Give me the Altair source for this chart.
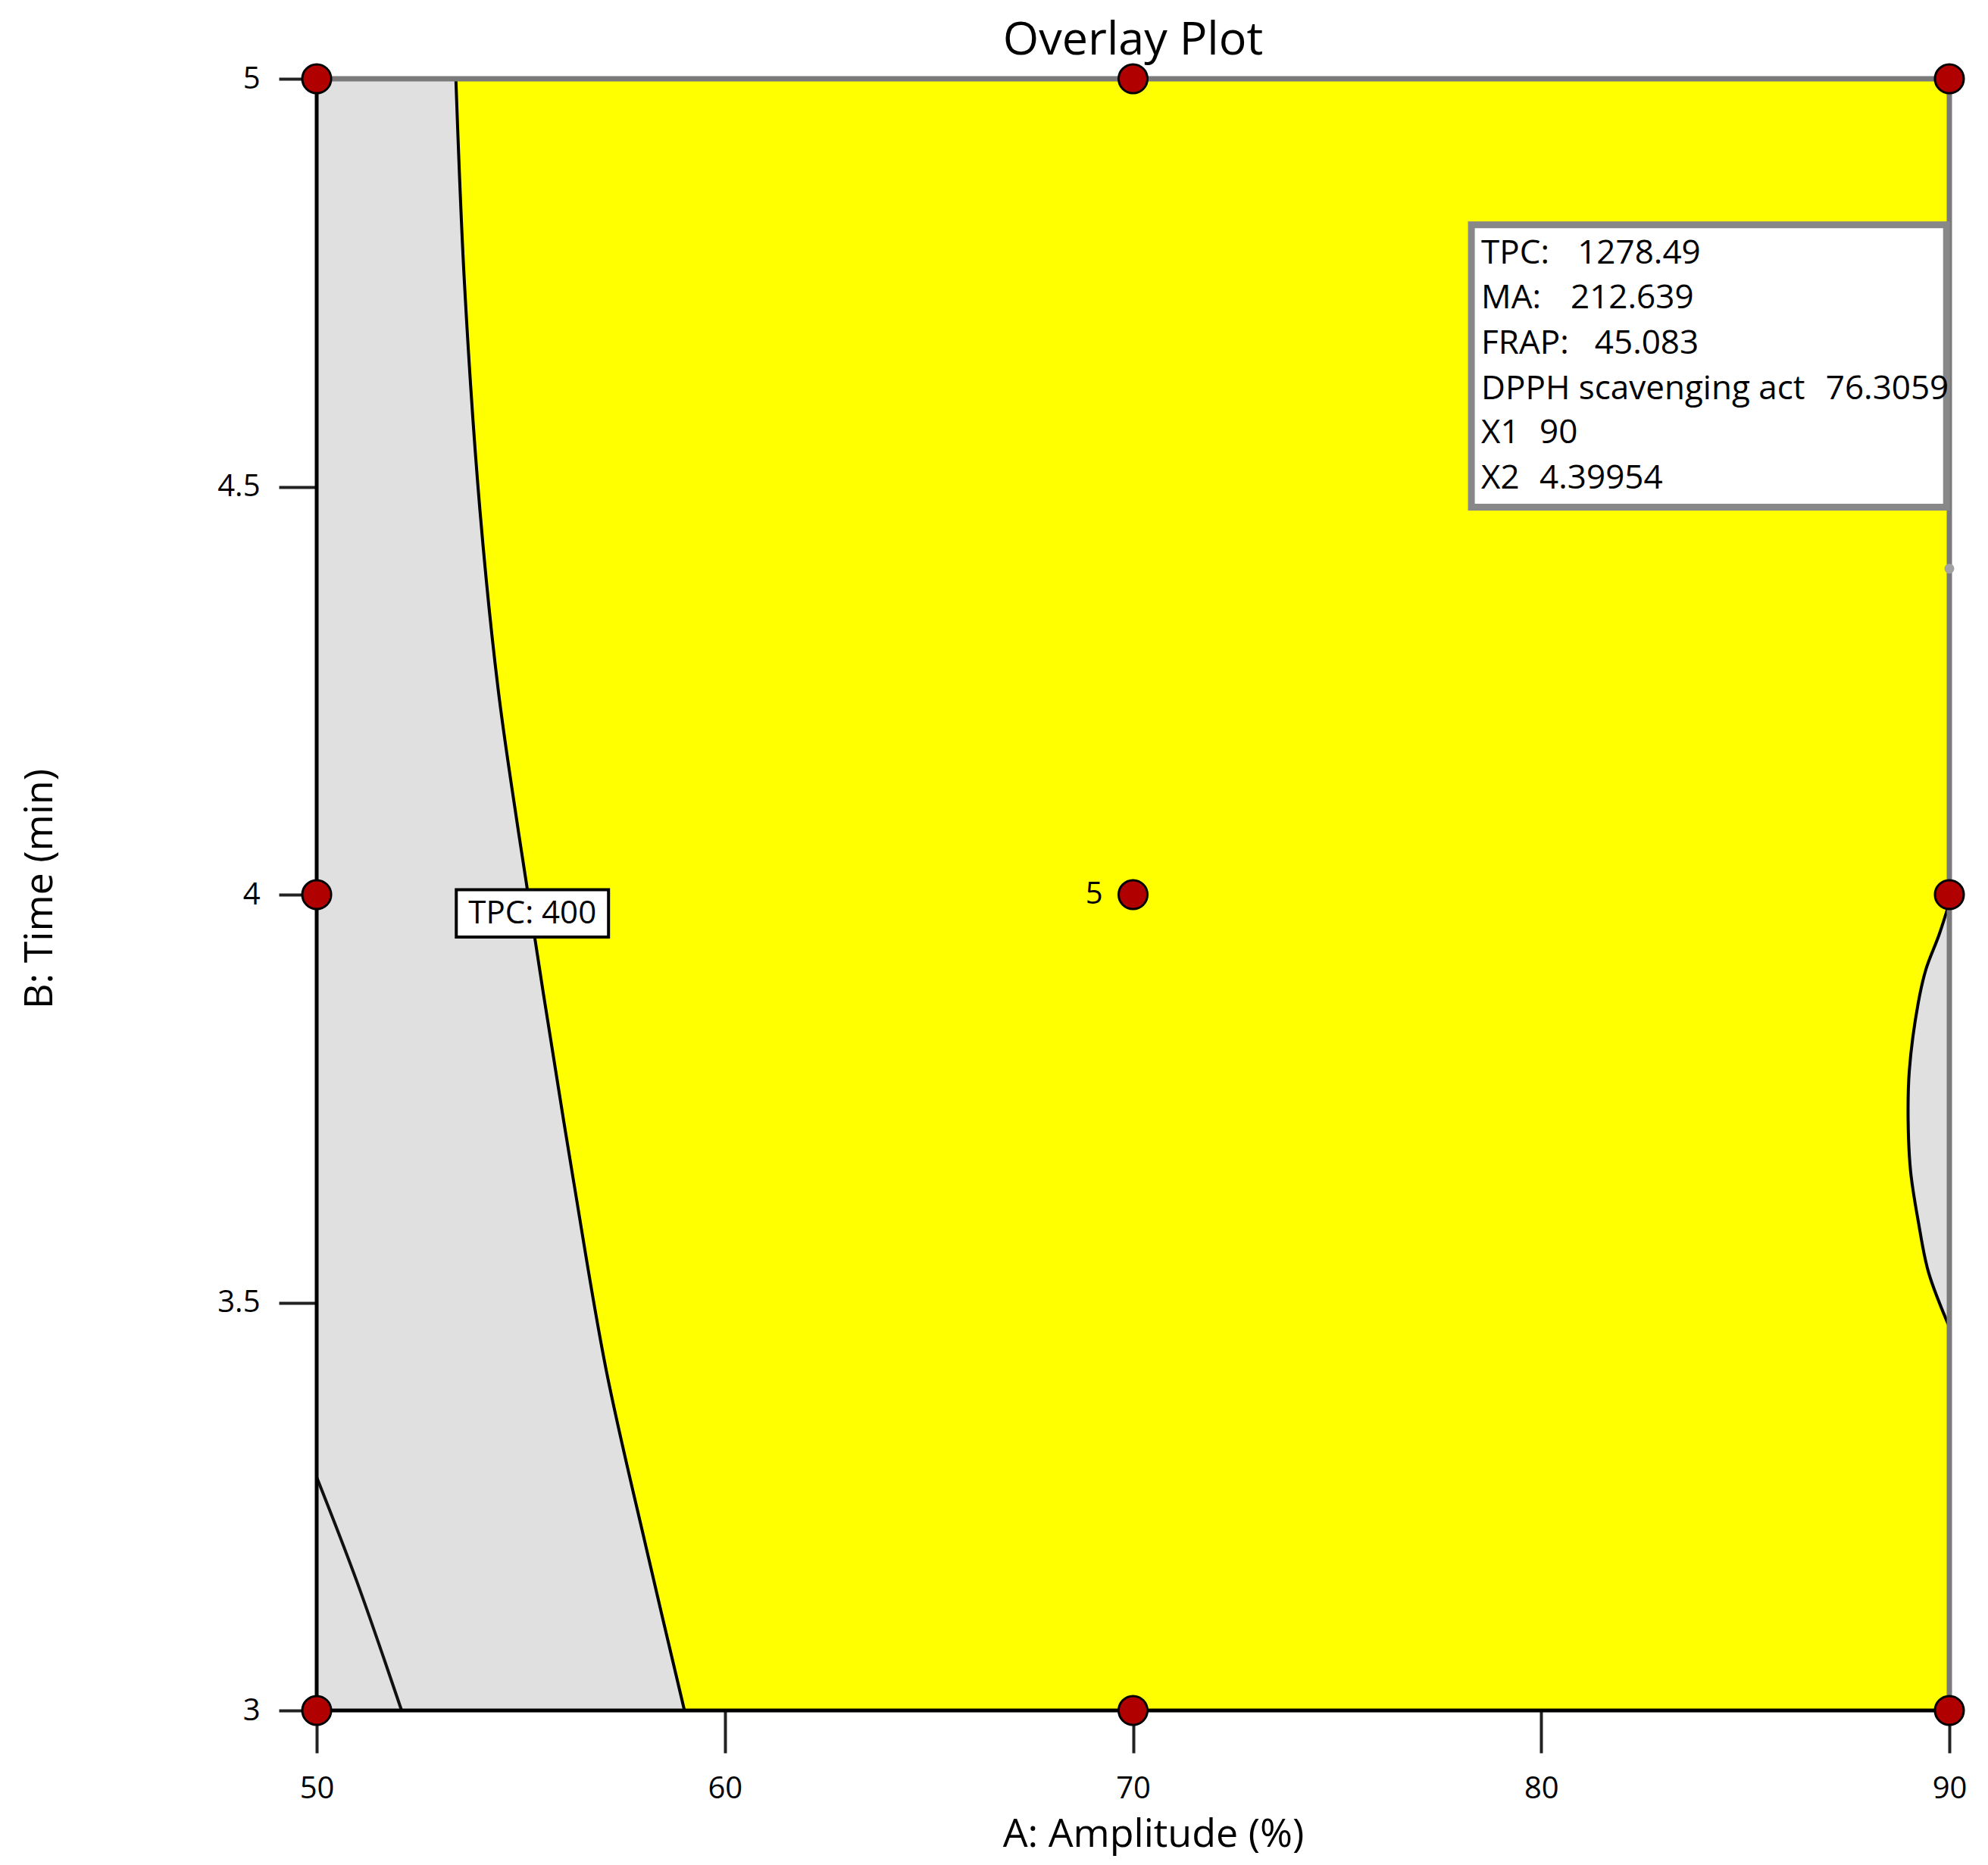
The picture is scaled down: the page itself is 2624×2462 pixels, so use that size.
import altair as alt
import pandas as pd

# ---------------- data ----------------
amp_domain = [50, 90]
time_domain = [3, 5]
x_ticks = [50, 60, 70, 80, 90]
y_ticks = [3, 3.5, 4, 4.5, 5]

# TPC = 400 contour (left boundary of the yellow region)
tpc400_x = [53.41, 53.62, 54.00, 54.45, 54.95, 55.55, 56.29, 57.09, 58.08, 59.01]
tpc400_y = [5.0, 4.75, 4.471, 4.25, 4.075, 3.88, 3.650, 3.418, 3.198, 3.0]

# second contour in the lower left corner
low_x = [50.0, 50.97, 52.08]
low_y = [3.286, 3.16, 3.0]

# lens-shaped boundary at the right edge
lens_x = [90.0, 89.75, 89.43, 89.24, 89.02, 88.99, 89.05, 89.24, 89.49, 90.0]
lens_y = [3.99, 3.951, 3.909, 3.868, 3.785, 3.723, 3.661, 3.599, 3.537, 3.470]

# design points
design_a = [50, 70, 90, 50, 70, 90, 50, 70, 90]
design_b = [5, 5, 5, 4, 4, 4, 3, 3, 3]
center_a = [70]
center_b = [4]
center_label = ["5"]

# flag point
flag_a = [90]
flag_b = [4.39954]

# flag box content
box_labels = ["TPC:", "MA:", "FRAP:", "DPPH scavenging act", "X1", "X2"]
box_values = ["1278.49", "212.639", "45.083", "76.3059", "90", "4.39954"]

# annotation placement (data units)
box_extent_x = [78.29, 89.93]
box_extent_y = [4.475, 4.821]
box_label_x = 78.53
box_value_x = [80.89, 80.72, 81.31, 86.97, 79.96, 79.96]
box_line_y = [4.773, 4.719, 4.663, 4.607, 4.553, 4.498]

tpc_label = ["TPC: 400"]
tpc_box_x = [53.42, 57.15]
tpc_box_y = [3.948, 4.006]

chart_title = ["Overlay Plot"]
title_pos_x = [70]
title_pos_y = [5.0297]

FONT = "Open Sans"

# ---------------- encodings ----------------
xscale = alt.Scale(domain=amp_domain, nice=False, zero=False)
yscale = alt.Scale(domain=time_domain, nice=False, zero=False)

x_axis = alt.Axis(values=x_ticks, title="A: Amplitude (%)", grid=False, domain=False,
                  tickSize=56, tickWidth=4, tickColor="#222222",
                  labelFont=FONT, labelFontSize=40, labelColor="black",
                  labelBaseline="alphabetic", labelPadding=59, labelFlush=False,
                  titleFont=FONT, titleFontSize=52, titleFontWeight="normal",
                  titleColor="black", titleX=1104, titleY=179,
                  titleAlign="center", titleBaseline="alphabetic")
y_axis = alt.Axis(values=y_ticks, format="~g", title="B: Time (min)", grid=False,
                  domain=False, tickSize=50, tickWidth=4, tickColor="#222222",
                  labelFont=FONT, labelFontSize=40, labelColor="black",
                  labelPadding=25, labelFlush=False,
                  titleFont=FONT, titleFontSize=52, titleFontWeight="normal",
                  titleColor="black", titleX=-350, titleY=1069, titleAngle=-90,
                  titleAlign="center", titleBaseline="alphabetic")


def X(field):
    return alt.X(field, type="quantitative", scale=xscale, axis=x_axis)


def Y(field):
    return alt.Y(field, type="quantitative", scale=yscale, axis=y_axis)


CURVE = "catmull-rom"

# ---------------- layers ----------------
bg_df = pd.DataFrame({"x": [amp_domain[0]], "x2": [amp_domain[1]],
                      "y": [time_domain[0]], "y2": [time_domain[1]]})
background = alt.Chart(bg_df).mark_rect(color="#E0E0E0").encode(
    x=X("x"), x2="x2", y=Y("y"), y2="y2")

yellow_df = pd.DataFrame({"x": tpc400_x, "x2": [amp_domain[1]] * len(tpc400_x), "y": tpc400_y})
yellow = alt.Chart(yellow_df).mark_area(orient="horizontal", color="#FFFF00", opacity=1,
                                        interpolate=CURVE).encode(
    x=X("x"), x2="x2", y=Y("y"))

lens_df = pd.DataFrame({"x": lens_x, "x2": [amp_domain[1]] * len(lens_x), "y": lens_y,
                        "i": list(range(len(lens_x)))})
lens_fill = alt.Chart(lens_df).mark_area(orient="horizontal", color="#E0E0E0", opacity=1,
                                         interpolate=CURVE).encode(
    x=X("x"), x2="x2", y=Y("y"))

tpc_df = pd.DataFrame({"x": tpc400_x, "y": tpc400_y, "i": list(range(len(tpc400_x)))})
tpc_line = alt.Chart(tpc_df).mark_line(color="black", strokeWidth=4, interpolate=CURVE).encode(
    x=X("x"), y=Y("y"), order="i:Q")

lens_line = alt.Chart(lens_df).mark_line(color="black", strokeWidth=4, interpolate=CURVE).encode(
    x=X("x"), y=Y("y"), order="i:Q")

low_df = pd.DataFrame({"x": low_x, "y": low_y, "i": list(range(len(low_x)))})
low_line = alt.Chart(low_df).mark_line(color="#111111", strokeWidth=4, interpolate=CURVE).encode(
    x=X("x"), y=Y("y"), order="i:Q")

# frame
top_df = pd.DataFrame({"x": [amp_domain[0]], "x2": [amp_domain[1]], "y": [time_domain[1]]})
right_df = pd.DataFrame({"x": [amp_domain[1]], "y": [time_domain[0]], "y2": [time_domain[1]]})
left_df = pd.DataFrame({"x": [amp_domain[0]], "y": [time_domain[0]], "y2": [time_domain[1]]})
bottom_df = pd.DataFrame({"x": [amp_domain[0]], "x2": [amp_domain[1]], "y": [time_domain[0]]})
frame_top = alt.Chart(top_df).mark_rule(color="#7a7a7a", strokeWidth=7).encode(
    x=X("x"), x2="x2", y=Y("y"))
frame_right = alt.Chart(right_df).mark_rule(color="#7a7a7a", strokeWidth=7).encode(
    x=X("x"), y=Y("y"), y2="y2")
frame_left = alt.Chart(left_df).mark_rule(color="black", strokeWidth=5).encode(
    x=X("x"), y=Y("y"), y2="y2")
frame_bottom = alt.Chart(bottom_df).mark_rule(color="black", strokeWidth=5).encode(
    x=X("x"), x2="x2", y=Y("y"))

# TPC: 400 label
tpcbox_df = pd.DataFrame({"x": [tpc_box_x[0]], "x2": [tpc_box_x[1]],
                          "y": [tpc_box_y[0]], "y2": [tpc_box_y[1]],
                          "xm": [sum(tpc_box_x) / 2], "ym": [sum(tpc_box_y) / 2],
                          "t": tpc_label})
tpc_box = alt.Chart(tpcbox_df).mark_rect(fill="white", stroke="black", strokeWidth=4).encode(
    x=X("x"), x2="x2", y=Y("y"), y2="y2")
tpc_text = alt.Chart(tpcbox_df).mark_text(font=FONT, fontSize=42, color="black",
                                          align="center", baseline="middle").encode(
    x=X("xm"), y=Y("ym"), text="t:N")

# flag box
flagbox_df = pd.DataFrame({"x": [box_extent_x[0]], "x2": [box_extent_x[1]],
                           "y": [box_extent_y[0]], "y2": [box_extent_y[1]]})
flag_box = alt.Chart(flagbox_df).mark_rect(fill="white", stroke="#888888", strokeWidth=9).encode(
    x=X("x"), x2="x2", y=Y("y"), y2="y2")
lab_df = pd.DataFrame({"x": [box_label_x] * len(box_labels), "y": box_line_y, "t": box_labels})
val_df = pd.DataFrame({"x": box_value_x, "y": box_line_y, "t": box_values})
flag_labels = alt.Chart(lab_df).mark_text(font=FONT, fontSize=44, color="black",
                                          align="left", baseline="alphabetic").encode(
    x=X("x"), y=Y("y"), text="t:N")
flag_values = alt.Chart(val_df).mark_text(font=FONT, fontSize=44, color="black",
                                          align="left", baseline="alphabetic").encode(
    x=X("x"), y=Y("y"), text="t:N")

flag_pt_df = pd.DataFrame({"x": flag_a, "y": flag_b})
flag_pt = alt.Chart(flag_pt_df).mark_circle(size=170, color="#a2a2a2", opacity=1).encode(
    x=X("x"), y=Y("y"))

# design points
pts_df = pd.DataFrame({"x": design_a, "y": design_b})
points = alt.Chart(pts_df).mark_circle(size=1450, fill="#B00000", stroke="black",
                                       strokeWidth=3, opacity=1).encode(
    x=X("x"), y=Y("y"))

ctr_df = pd.DataFrame({"x": center_a, "y": center_b, "t": center_label})
ctr_text = alt.Chart(ctr_df).mark_text(font=FONT, fontSize=40, color="black",
                                       align="right", baseline="middle", dx=-40).encode(
    x=X("x"), y=Y("y"), text="t:N")

# chart title as a text mark above the plot
title_df = pd.DataFrame({"x": title_pos_x, "y": title_pos_y, "t": chart_title})
title_text = alt.Chart(title_df).mark_text(font=FONT, fontSize=61, color="black",
                                           align="center", baseline="alphabetic").encode(
    x=X("x"), y=Y("y"), text="t:N")

chart = alt.layer(
    background, yellow, lens_fill, tpc_line, lens_line, low_line,
    frame_top, frame_right, frame_left, frame_bottom,
    tpc_box, tpc_text, flag_box, flag_labels, flag_values, flag_pt,
    title_text, points, ctr_text,
).properties(
    width=2155, height=2154,
    autosize=alt.AutoSizeParams(type="none"),
    padding={"left": 410, "top": 96, "right": 40, "bottom": 196},
).configure_view(stroke=None)

chart.save("out.html", embed_options={"renderer": "svg", "actions": False})
